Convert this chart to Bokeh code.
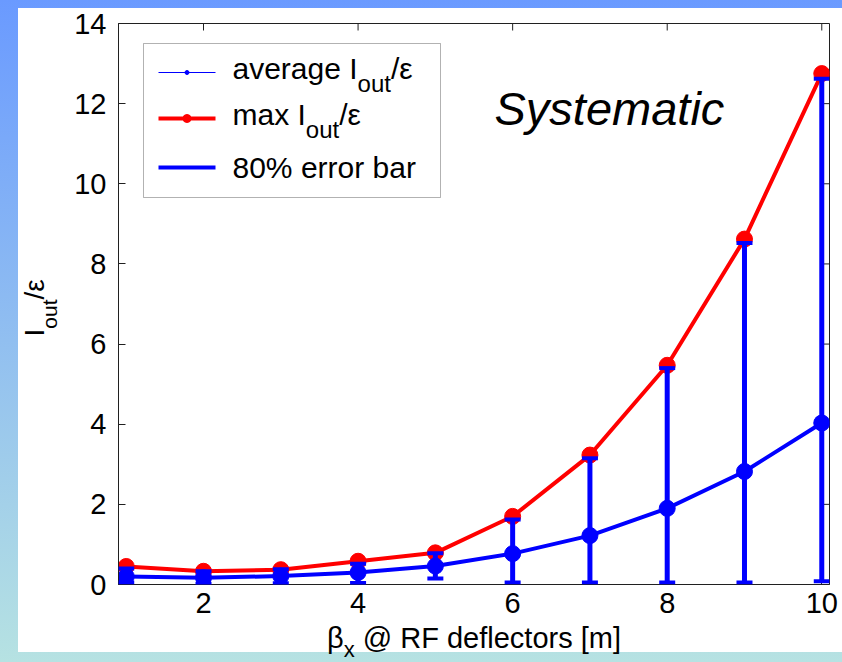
import math
from bokeh.plotting import figure
from bokeh.models import (Range1d, FixedTicker, Whisker, TeeHead,
                          ColumnDataSource, Label, BoxAnnotation)
from bokeh.embed import file_html
from bokeh.resources import INLINE

# ---------------- data ----------------
beta_x = [1, 2, 3, 4, 5, 6, 7, 8, 9, 10]
max_ratio = [0.45, 0.33, 0.37, 0.58, 0.79, 1.70, 3.23, 5.47, 8.62, 12.75]
avg_ratio = [0.20, 0.17, 0.21, 0.30, 0.46, 0.77, 1.22, 1.90, 2.82, 4.03]
err_upper = [0.40, 0.33, 0.38, 0.52, 0.78, 1.62, 3.15, 5.40, 8.52, 12.62]
err_lower = [0.05, 0.02, 0.03, 0.04, 0.15, 0.05, 0.05, 0.05, 0.05, 0.08]
x_ticks = [2, 4, 6, 8, 10]
y_ticks = [0, 2, 4, 6, 8, 10, 12, 14]
x_limits = (0.9, 10.1)
y_limits = (0.0, 14.0)

legend_labels = ["average", "max", "80% error bar"]
subscript = "out"
ratio_sym = "I"
eps_part = "/\u03b5"
x_label_main = "\u03b2"
x_label_sub = "x"
x_label_rest = "@ RF deflectors [m]"
note_text = "Systematic"

# ---------------- layout geometry (page pixels) ----------------
W, H = 842, 662
FL, FT, FR, FB = 118, 23, 829, 584
FONT = "Liberation Sans"
BLUE = "#0000ff"
RED = "#ff0000"
AX = "#202020"
TICK = 7
BASE_FIX = 0.32   # measured offset of the rendered alphabetic baseline, in em


def dx(px):
    return x_limits[0] + (px - FL) * (x_limits[1] - x_limits[0]) / (FR - FL)


def dy(py):
    return y_limits[0] + (FB - py) * (y_limits[1] - y_limits[0]) / (FB - FT)


WIDTHS = {"a": 556, "v": 500, "e": 556, "r": 333, "g": 556, " ": 278, "I": 278,
          "o": 556, "u": 556, "t": 278, "/": 278, "\u03b5": 446, "m": 833,
          "x": 500, "8": 556, "0": 556, "%": 889, "b": 556, "\u03b2": 575,
          "@": 1015, "R": 722, "F": 611, "d": 556, "f": 278, "l": 222,
          "c": 500, "s": 500, "[": 278, "]": 278}


def tw(s, size):
    return sum(WIDTHS.get(c, 556) for c in s) / 1000.0 * size


def rich(p, pieces, px, py, angle=0.0, italic=False):
    """pieces: list of (text, size, shift_px, pre_gap_px, panel or None)."""
    adv = 0.0
    for txt, size, shift, gap, place in pieces:
        adv += gap
        fix = BASE_FIX * size
        if angle == 0.0:
            x, y = px + adv, py + shift - fix
        else:
            x, y = px + shift - fix, py - adv
        lab = Label(x=dx(x), y=dy(y), text=txt, angle=angle, text_font=FONT,
                    text_font_size=f"{size:.1f}px", text_baseline="alphabetic",
                    text_align="left", text_color="black",
                    text_font_style="italic" if italic else "normal")
        if place is None:
            p.add_layout(lab)
        else:
            # labels hosted by a side panel are not clipped to the frame
            p.add_layout(lab, place)
        adv += tw(txt, size)
    return adv


def rich_len(pieces):
    return sum(tw(t, s) + g for t, s, sh, g, _ in pieces)


# ---------------- figure ----------------
p = figure(width=W, height=H,
           x_range=Range1d(*x_limits), y_range=Range1d(*y_limits),
           output_backend="svg", toolbar_location=None,
           min_border_left=FL, min_border_right=W - FR,
           min_border_top=FT, min_border_bottom=H - FB,
           background_fill_color="white", border_fill_color=None,
           outline_line_color=AX, outline_line_width=1)
p.styles = {"background": "linear-gradient(#ffffff, #ffffff) 18px 8px / 824px 644px no-repeat, "
                          "linear-gradient(to bottom, #6a9aff 0%, #b6e2e2 100%)"}

p.xgrid.visible = False
p.ygrid.visible = False
p.xaxis.ticker = FixedTicker(ticks=x_ticks)
p.yaxis.ticker = FixedTicker(ticks=y_ticks)
for ax in list(p.xaxis) + list(p.yaxis):
    ax.major_tick_in = TICK
    ax.major_tick_out = 0
    ax.minor_tick_in = 0
    ax.minor_tick_out = 0
    ax.axis_line_color = AX
    ax.major_tick_line_color = AX
    ax.major_label_text_font = FONT
    ax.major_label_text_font_size = "29px"
    ax.major_label_text_color = "black"
p.xaxis.major_label_standoff = 8
p.yaxis.major_label_standoff = 12

# inward ticks on the top and right frame edges (box on)
tx = dx(FL + TICK) - dx(FL)
ty = dy(FB - TICK) - dy(FB)
p.segment(x0=x_ticks, y0=[y_limits[1]] * len(x_ticks), x1=x_ticks,
          y1=[y_limits[1] - ty] * len(x_ticks), line_color=AX, line_width=1)
p.segment(x0=[x_limits[1]] * len(y_ticks), y0=y_ticks, x1=[x_limits[1] - tx] * len(y_ticks),
          y1=y_ticks, line_color=AX, line_width=1)

src = ColumnDataSource(dict(x=beta_x, mx=max_ratio, avg=avg_ratio,
                            upper=err_upper, lower=err_lower))

# max curve
p.line("x", "mx", source=src, line_color=RED, line_width=4)
p.scatter("x", "mx", source=src, size=16, fill_color=RED, line_color=RED)

# average curve
p.line("x", "avg", source=src, line_color=BLUE, line_width=4)
p.scatter("x", "avg", source=src, size=16, fill_color=BLUE, line_color=BLUE)

# 80% error bars
wh = Whisker(source=src, base="x", upper="upper", lower="lower", dimension="height",
             line_color=BLUE, line_width=5, level="annotation",
             upper_head=TeeHead(size=16, line_color=BLUE, line_width=4),
             lower_head=TeeHead(size=16, line_color=BLUE, line_width=4))
p.add_layout(wh)

# ---------------- legend (manual, for subscripts) ----------------
box = BoxAnnotation(left=dx(143), right=dx(440), top=dy(43), bottom=dy(197),
                    fill_color="white", fill_alpha=1.0, line_color="black",
                    line_width=1, level="underlay")
p.add_layout(box)

rows_y = [72, 118, 167]
sw_x0, sw_x1 = 158, 215
p.line([dx(sw_x0), dx(sw_x1)], [dy(rows_y[0])] * 2, line_color=BLUE, line_width=1)
p.scatter([dx((sw_x0 + sw_x1) / 2)], [dy(rows_y[0])], size=4, fill_color=BLUE, line_color=BLUE)
p.line([dx(sw_x0), dx(sw_x1)], [dy(rows_y[1])] * 2, line_color=RED, line_width=4)
p.scatter([dx((sw_x0 + sw_x1) / 2)], [dy(rows_y[1])], size=8, fill_color=RED, line_color=RED)
p.line([dx(sw_x0), dx(sw_x1)], [dy(rows_y[2])] * 2, line_color=BLUE, line_width=4)

LS = 30
LSUB = 24
for i in range(2):
    rich(p, [(legend_labels[i] + " " + ratio_sym, LS, 0, 0, None),
             (subscript, LSUB, 0.42 * LS, 0, None),
             (eps_part, LS, 0, 0, None)], 232, rows_y[i] + 6)
rich(p, [(legend_labels[2], LS, 0, 0, None)], 232, rows_y[2] + 10)

# ---------------- axis labels (hosted by side panels that have spare room) ----------------
AS, ASUB = 29, 22
xl = [(x_label_main, AS, 0, 0, "left"), (x_label_sub, ASUB, 0.3 * AS, 0, "right"),
      (x_label_rest, AS, 0, 0.28 * AS, "below")]
xlen = rich_len(xl)
rich(p, xl, (FL + FR) / 2 - xlen / 2, 647)

YS, YSUB = 28, 21
yl = [(ratio_sym, YS, 0, 0, "left"), (subscript, YSUB, 0.45 * YS, 0, "left"),
      (eps_part, YS, 0, 0, "above")]
ylen = rich_len(yl)
rich(p, yl, 43, 336, angle=math.pi / 2)

# ---------------- annotation ----------------
rich(p, [(note_text, 47, 0, 0, None)], 494, 123, italic=True)

open("out.html", "w").write(file_html(p, INLINE))
